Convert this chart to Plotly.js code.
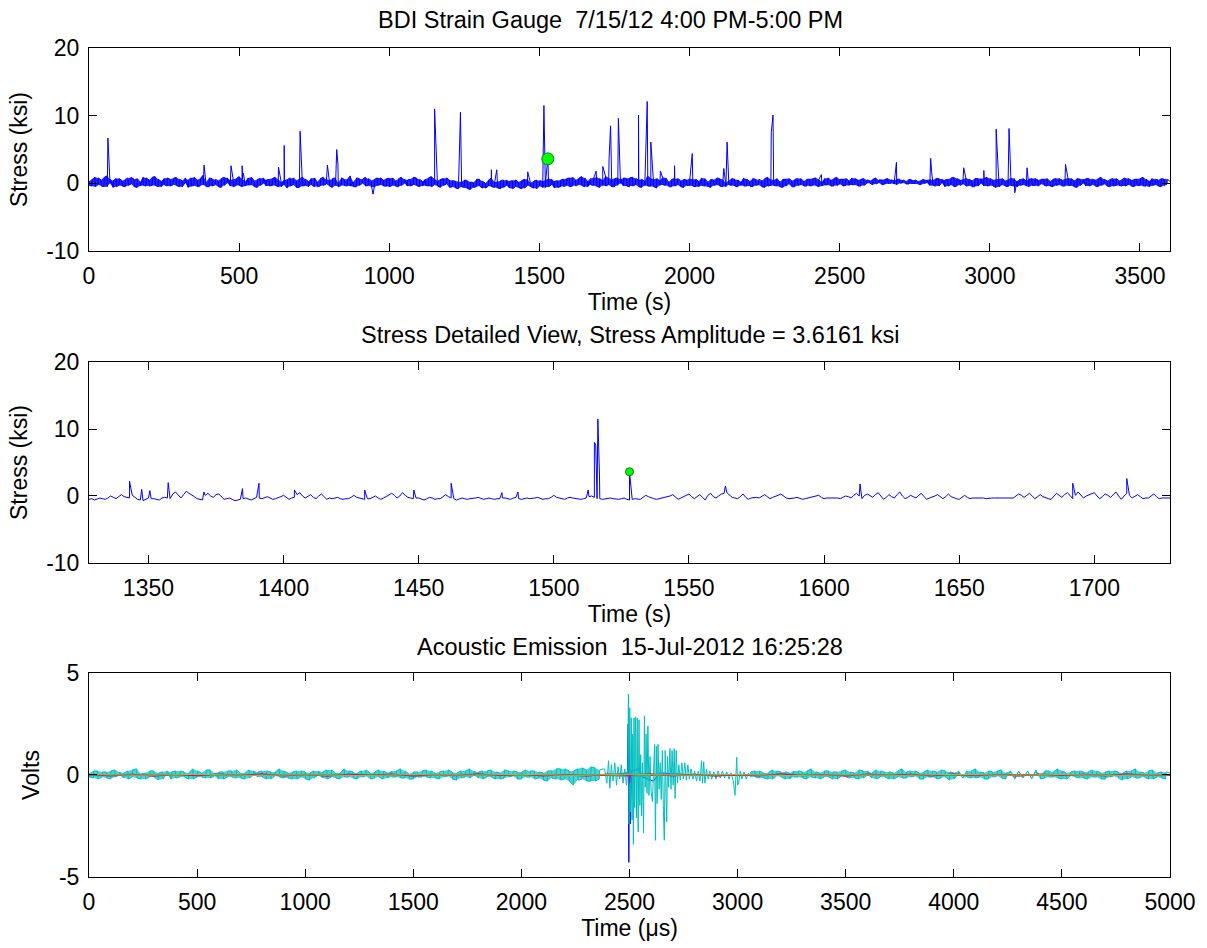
<!DOCTYPE html>
<html>
<head>
<meta charset="utf-8">
<script src="https://cdn.plot.ly/plotly-3.0.1.min.js"></script>
<style>html,body{margin:0;padding:0;background:#fff;}#chart{width:1207px;height:948px;}</style>
</head>
<body>
<div id="chart"></div>
<script>
// ---------- Panel 1: BDI strain gauge, one hour ----------
// paired readings every 10 s: first at t, second at t+1 s
const gaugeStart = 0;
const gaugeMidStart = 1;
const gaugeStep = 10;
const gaugeBase = [
0.3,-0.4,0.9,-0.2,0.5,-0.5,1.1,0.0,-0.6,0.7,-0.3,0.4,-0.5,0.8,-0.1,0.6,-0.6,0.2,0.9,-0.4,
0.5,-0.3,1.0,-0.5,0.3,0.7,-0.4,0.6,-0.2,0.9,-0.5,0.4,0.1,-0.6,0.8,-0.3,0.5,-0.4,1.2,0.2,
-0.5,0.7,-0.2,0.4,-0.6,0.9,0.1,-0.4,0.6,-0.3,1.0,-0.5,0.3,0.8,-0.2,0.4,-0.6,0.7,0.0,-0.4,
0.6,-0.3,0.9,-0.5,0.2,0.5,-0.7,0.8,-0.2,0.4,-0.6,1.0,-0.3,0.3,0.7,-0.5,0.2,-0.4,0.9,-0.1,
0.5,-0.6,0.8,0.1,-0.3,0.6,-0.4,1.1,0.2,-0.5,0.7,0.0,0.9,-0.3,0.4,-0.6,0.8,-0.2,0.5,-0.4,
0.7,-0.3,0.4,-0.5,0.9,0.0,-0.4,0.6,-0.2,0.8,-0.5,0.3,0.6,-0.4,1.0,-0.2,0.4,-0.6,0.7,-0.1,
0.5,-0.5,0.3,-0.8,0.2,-0.6,0.4,-0.9,0.1,-0.5,0.6,-0.7,0.0,-0.4,0.8,-0.6,0.3,-0.8,0.5,-0.3,
-0.7,0.4,-0.5,0.2,-0.8,0.6,-0.3,0.1,-0.7,0.5,-0.4,0.3,-0.6,0.7,-0.2,-0.7,0.4,-0.5,0.6,-0.3,
0.8,-0.4,0.5,-0.2,1.0,-0.5,0.3,0.7,-0.3,0.9,-0.6,0.4,1.1,-0.2,0.6,-0.5,0.8,0.0,-0.4,0.7,
-0.5,0.9,-0.2,0.5,-0.6,0.3,1.2,-0.4,0.6,-0.7,0.4,0.9,-0.3,0.2,-0.5,0.7,-0.2,0.4,-0.6,0.5,
-0.3,0.6,-0.5,0.3,0.8,-0.4,0.2,-0.6,0.5,-0.2,0.7,-0.5,0.1,0.4,-0.3,0.6,-0.5,0.2,0.8,-0.4,
0.3,-0.5,0.6,-0.2,0.4,-0.6,0.9,-0.3,0.5,-0.4,0.2,-0.6,0.6,-0.1,0.4,-0.5,0.7,-0.2,0.3,-0.4,
0.6,-0.3,0.8,-0.5,0.2,0.7,-0.2,0.5,-0.4,0.9,-0.1,0.6,-0.3,0.4,0.8,-0.2,0.5,-0.4,0.7,0.0,
0.4,-0.2,0.8,0.1,0.5,-0.1,0.7,0.0,0.4,-0.2,0.6,0.1,0.3,-0.1,0.5,0.0,0.3,-0.2,0.6,0.1,
-0.3,0.5,-0.4,0.7,0.1,-0.5,0.6,-0.2,0.9,-0.4,0.5,-0.1,0.8,-0.3,0.4,-0.5,0.7,0.0,-0.4,0.9,
-0.3,0.5,-0.6,0.7,-0.2,0.4,-0.5,0.8,-0.4,0.3,0.6,-0.2,0.4,-0.5,0.7,-0.3,0.5,-0.1,0.6,-0.4,
0.3,-0.5,0.7,-0.2,0.5,-0.4,0.8,-0.3,0.4,-0.6,0.6,0.0,-0.4,0.7,-0.2,0.5,-0.5,0.9,-0.1,0.4,
-0.5,0.7,-0.3,0.4,-0.4,0.8,-0.2,0.5,-0.5,0.6,-0.3,0.9,-0.4,0.3,0.7,-0.2,0.5,-0.5,0.6,-0.1,
0.3];
const gaugeBaseMid = [
-0.3,0.6,-0.5,0.8,-0.4,0.9,-0.5,0.6,0.4,-0.5,0.7,-0.4,0.6,-0.3,0.9,-0.5,0.7,-0.4,-0.3,0.8,
-0.4,0.9,-0.3,0.6,-0.5,-0.2,0.8,-0.4,0.7,-0.3,0.6,-0.5,0.8,0.5,-0.4,0.9,-0.5,0.7,-0.2,-0.5,
0.8,-0.4,0.6,-0.5,0.7,-0.3,0.8,0.5,-0.5,0.7,-0.3,0.6,-0.4,-0.2,0.9,-0.5,0.6,-0.3,0.8,0.5,
-0.4,0.7,-0.3,0.6,-0.5,-0.2,0.6,-0.4,0.8,-0.6,0.7,-0.4,0.6,-0.5,-0.2,0.8,-0.5,0.7,-0.3,0.6,
-0.4,0.7,-0.3,-0.5,0.8,-0.3,0.6,-0.4,-0.5,0.8,-0.3,0.6,-0.4,0.7,-0.5,0.6,-0.3,0.8,-0.4,0.7,
-0.5,0.8,-0.4,0.7,-0.3,0.6,0.5,-0.4,0.9,-0.3,0.6,-0.4,-0.3,0.8,-0.5,0.7,-0.4,0.6,-0.3,0.8,
-0.6,0.4,-0.7,0.3,-0.5,0.5,-0.8,0.2,-0.6,0.6,-0.4,0.3,-0.7,0.5,-0.5,0.2,-0.7,0.4,-0.6,0.5,
0.3,-0.8,0.5,-0.6,0.4,-0.7,0.6,-0.5,0.3,-0.8,0.4,-0.6,0.5,-0.5,0.6,0.3,-0.6,0.5,-0.5,0.7,
-0.5,0.9,-0.4,0.7,-0.3,0.8,-0.5,-0.2,0.8,-0.4,0.7,-0.3,-0.4,0.9,-0.5,0.7,-0.3,0.6,0.8,-0.4,
0.8,-0.4,0.7,-0.5,0.6,-0.3,-0.4,0.8,-0.5,0.7,-0.3,-0.2,0.8,-0.5,0.6,-0.4,0.7,-0.5,0.6,-0.3,
0.7,-0.4,0.6,-0.5,-0.3,0.7,-0.4,0.6,-0.3,0.8,-0.4,0.6,-0.5,-0.2,0.7,-0.4,0.5,-0.3,-0.4,0.6,
-0.4,0.7,-0.3,0.6,-0.5,0.7,-0.4,0.6,-0.3,0.7,-0.5,0.6,-0.4,0.7,-0.5,0.6,-0.3,0.7,-0.4,0.6,
-0.4,0.7,-0.3,0.6,-0.4,-0.2,0.8,-0.4,0.7,-0.3,0.6,-0.4,0.7,-0.3,-0.2,0.7,-0.4,0.6,-0.3,0.5,
0.0,0.6,-0.1,0.5,-0.2,0.6,0.0,0.5,-0.1,0.6,0.0,0.5,-0.1,0.6,0.0,0.5,-0.1,0.4,0.0,0.5,
0.6,-0.3,0.7,-0.4,0.6,0.5,-0.4,0.8,-0.5,0.7,-0.3,0.6,-0.4,0.6,-0.5,0.7,-0.4,0.6,0.7,-0.4,
0.7,-0.4,0.6,-0.5,0.7,-0.4,0.6,-0.3,0.7,-0.5,-0.3,0.7,-0.4,0.6,-0.3,0.7,-0.4,0.6,-0.3,0.7,
-0.4,0.6,-0.3,0.7,-0.4,0.6,-0.3,0.7,-0.5,0.7,-0.3,0.6,0.7,-0.4,0.6,-0.4,0.7,-0.3,0.6,-0.4,
0.6,-0.4,0.7,-0.3,0.6,-0.4,0.7,-0.4,0.6,-0.3,0.7,-0.4,0.6,-0.5,-0.3,0.6,-0.4,0.7,-0.3,0.6];
const gaugeSpikeTime = [63,383,473,510,514,631,650,703,794,825,829,946,1151,1237,1340,1358,1461,1515,1528,1689,1711,1732,1737,1763,1830,1859,1871,1903,1950,2009,2114,2125,2272,2278,2439,2689,2803,2806,2913,2980,3021,3064,3083,3124,3252];
const gaugeSpikeStress = [6.7,2.7,2.6,2.6,1.5,2.4,5.6,7.7,2.7,5.0,2.8,-1.6,11.0,10.5,2.0,2.0,1.7,11.5,3.6,1.8,2.5,3.7,8.5,9.6,10.1,12.1,6.1,1.8,2.6,4.4,2.2,6.1,7.5,10.1,1.3,3.1,3.7,1.8,2.3,1.9,8.0,8.1,-1.4,2.3,2.8];

// selected event
const eventTime = [1528];
const eventStress = [3.6161];

// ---------- Panel 2: detailed view ----------
const detailStart = 1328;     // even seconds
const detailMidStart = 1329;  // odd seconds
const detailStep = 2;
const detailBase = [
-0.5,-0.6,-0.3,-0.5,0.0,-0.4,0.2,-0.2,0.1,-0.5,-0.7,-0.3,-0.4,-0.6,-0.2,-0.4,0.6,-0.3,0.7,0.2,
-0.4,-0.6,0.4,-0.2,0.3,-0.5,-0.3,-0.7,-0.5,-0.3,-0.6,-0.2,-0.4,-0.1,-0.5,-0.3,0.1,-0.5,-0.2,0.5,
-0.3,0.2,-0.4,0.3,-0.5,-0.4,-0.2,-0.5,-0.4,0.1,-0.3,-0.5,-0.4,0.0,-0.5,-0.1,0.4,-0.3,0.5,-0.2,
-0.4,-0.3,-0.6,-0.2,-0.5,-0.4,0.2,-0.3,-0.6,-0.3,-0.5,-0.4,-0.2,-0.5,-0.3,-0.5,-0.4,-0.3,-0.5,-0.2,
-0.5,-0.3,-0.4,-0.2,-0.5,-0.4,0.1,-0.3,-0.5,-0.2,-0.4,-0.5,-0.3,0.0,-0.4,-0.5,-0.3,-0.4,-0.5,-0.3,
-0.6,-0.4,-0.5,0.1,-0.3,-0.5,-0.4,-0.2,0.2,-0.5,-0.1,0.3,-0.4,0.2,-0.6,0.4,-0.3,0.3,0.5,-0.2,
-0.4,0.3,-0.5,-0.2,-0.3,0.2,-0.4,-0.1,0.3,-0.3,-0.4,-0.2,-0.5,-0.3,-0.2,0.1,-0.4,-0.3,-0.2,-0.4,
0.0,-0.3,0.4,-0.4,0.3,-0.2,0.5,-0.5,0.2,-0.3,0.6,-0.4,0.1,-0.3,0.4,-0.5,-0.2,0.2,-0.4,0.3,
-0.3,-0.5,0.1,-0.4,-0.3,-0.2,-0.4,-0.3,-0.3,-0.3,-0.3,-0.3,0.3,-0.2,0.4,-0.4,0.2,-0.3,-0.5,0.4,
-0.2,0.5,-0.4,0.6,-0.3,0.2,0.5,-0.4,0.3,-0.2,0.6,-0.5,0.4,-0.3,0.2,-0.4,-0.3,0.3,-0.4,-0.3,
-0.3];
const detailBaseMid = [
-0.4,-0.5,-0.4,-0.3,-0.2,-0.1,-0.1,-0.3,-0.2,-0.6,-0.5,-0.4,-0.5,-0.3,-0.3,0.3,0.1,0.2,0.4,-0.1,
-0.5,0.1,0.0,0.2,-0.1,-0.4,-0.5,-0.6,-0.4,-0.5,-0.4,-0.3,-0.2,-0.3,-0.4,-0.1,-0.2,-0.3,0.2,0.0,
0.0,-0.2,0.0,-0.1,-0.3,-0.3,-0.4,-0.4,-0.2,-0.2,-0.4,-0.4,-0.2,-0.3,-0.3,0.2,0.1,0.0,0.1,-0.3,
-0.3,-0.5,-0.4,-0.3,-0.4,-0.1,-0.1,-0.4,-0.5,-0.4,-0.4,-0.3,-0.3,-0.4,-0.4,-0.4,-0.3,-0.4,-0.3,-0.4,
-0.4,-0.4,-0.3,-0.3,-0.4,-0.2,-0.2,-0.4,-0.3,-0.3,-0.5,-0.4,-0.1,-0.2,-0.4,-0.4,-0.3,-0.5,-0.4,-0.5,
-0.5,-0.4,-0.2,-0.1,-0.4,-0.4,-0.3,0.0,-0.1,-0.3,0.1,-0.1,-0.1,-0.2,0.1,-0.1,0.0,0.4,0.1,-0.3,
-0.1,-0.2,-0.3,-0.2,0.0,-0.1,-0.2,0.1,0.0,-0.4,-0.3,-0.3,-0.4,-0.2,-0.1,-0.2,-0.3,-0.2,-0.3,-0.2,
-0.1,0.1,0.0,0.1,0.0,0.2,0.0,-0.2,-0.1,0.2,0.0,-0.2,-0.1,0.1,-0.1,-0.3,0.0,-0.1,-0.1,-0.1,
-0.4,-0.2,-0.2,-0.3,-0.2,-0.3,-0.3,-0.3,-0.3,-0.3,-0.3,0.0,0.1,0.1,0.0,-0.1,-0.1,-0.4,0.0,0.1,
0.2,0.1,0.1,0.2,0.0,0.4,0.0,-0.1,0.1,0.2,0.0,0.0,0.1,0.0,-0.1,-0.3,0.0,-0.1,-0.3,-0.3];
const detailEventTime = [1343,1347.5,1350.5,1357.3,1370.5,1384.8,1390.9,1404,1430,1448.2,1462,1480.8,1486.7,1512.7,1515.0,1515.5,1516.3,1516.9,1528,1563.5,1613.3,1692,1712];
const detailEventStress = [2.2,1.0,0.8,2.0,0.6,1.1,1.9,0.9,0.9,0.9,1.9,0.5,0.6,0.9,8.0,7.6,11.5,3.0,3.6161,1.5,1.8,1.9,2.6];

// ---------- Panel 3: acoustic emission channels (Volts vs microseconds) ----------
// paired readings every 20 us: first at t, second at t+2 us
const aeStep = 20;
const aeCyanPreStart = 0;
const aeCyanPreMidStart = 2;
const aeCyanPre = [
0.1,-0.15,0.2,-0.1,0.15,-0.2,0.25,0.0,-0.15,0.2,
-0.1,0.3,-0.2,0.1,-0.1,0.2,-0.25,0.15,0.05,-0.2,
0.2,-0.1,0.15,-0.2,0.3,-0.1,0.1,-0.15,0.25,-0.05,
-0.2,0.15,-0.1,0.2,-0.15,0.1,-0.2,0.25,0.0,-0.1,
0.2,-0.2,0.15,-0.05,0.3,-0.15,0.1,-0.2,0.2,-0.1,
0.15,-0.25,0.2,0.0,-0.15,0.25,-0.1,0.1,-0.2,0.3,
-0.1,0.15,-0.2,0.2,-0.05,0.1,-0.15,0.25,-0.2,0.1,
0.2,-0.1,0.3,-0.15,0.05,-0.2,0.15,-0.1,0.25,-0.15,
0.1,-0.2,0.2,-0.05,0.15,-0.25,0.2,-0.1,0.3,0.0,
-0.15,0.2,-0.1,0.25,-0.2,0.1,-0.15,0.2,-0.05,0.15,
-0.2,0.25,-0.1,0.2,-0.15,0.1,-0.3,0.2,-0.2,0.3,
-0.2,0.2,-0.5,0.3,-0.2,0.25,-0.3,0.35,-0.2,0.3];
const aeCyanPreMid = [
-0.1,0.2,-0.2,0.15,-0.15,0.2,-0.1,0.15,0.1,-0.2,
0.25,-0.15,0.05,-0.2,0.2,-0.1,0.1,-0.2,0.2,0.15,
-0.15,0.2,-0.1,0.1,-0.2,0.2,-0.1,0.25,-0.15,0.1,
0.15,-0.2,0.2,-0.1,0.25,-0.15,0.1,-0.15,0.2,0.15,
-0.1,0.2,-0.2,0.15,-0.1,0.2,-0.15,0.15,-0.2,0.2,
-0.2,0.1,-0.15,0.2,0.15,-0.2,0.25,-0.15,0.1,-0.1,
0.2,-0.15,0.1,-0.1,0.25,-0.2,0.15,-0.1,0.2,-0.15,
-0.1,0.2,-0.15,0.2,-0.2,0.15,-0.1,0.2,-0.1,0.2,
-0.15,0.15,-0.1,0.25,-0.2,0.1,-0.15,0.2,-0.15,0.2,
0.15,-0.2,0.2,-0.1,0.15,-0.2,0.25,-0.1,0.2,-0.2,
0.15,-0.1,0.2,-0.2,0.15,-0.25,0.2,-0.15,0.3,-0.25,
0.3,-0.3,0.2,-0.25,0.35,-0.3,0.4,-0.3,0.25];
const aeCyanBurstTime = [2385,2395,2403,2409,2416,2424,2432,2440,2447,2455,2462,2470,2478,2486,2492,2495,2498,2501,2504,2508,2512,2515,2518,2521,2524,2528,2532,2536,2540,2544,2548,2552,2556,2560,2565,2569,2573,2577,2581,2585,2590,2595,2600,2606,2611,2616,2620,2624,2628,2632,2637,2642,2647,2652,2657,2661,2665,2669,2672,2676,2681,2687,2692,2697,2702,2707,2711,2716,2722,2728,2735,2742,2749,2756,2763,2770,2777,2785,2793,2801,2810,2818,2826,2833,2838,2843,2849,2856,2864,2872,2880,2890,2900,2910,2920,2930,2940,2950,2960,2970,2980,2988,2992,2996,3000,3005,3012,3020,3030,3040,3050];
const aeCyanBurstVolts = [0.3,-0.4,0.7,-0.65,0.5,-0.3,0.6,-0.5,0.4,-0.2,0.5,-0.4,0.3,-0.5,0.3,3.97,-2.4,3.3,-1.8,2.8,-2.2,2.0,-3.4,2.8,-1.6,2.85,-2.1,2.8,-2.8,2.7,-1.5,1.0,-2.0,0.6,-2.85,2.9,-0.6,2.0,-0.9,2.4,-1.0,0.9,-0.8,-1.3,0.8,1.5,-3.2,1.4,-1.4,1.5,-0.7,0.6,-1.2,1.2,-1.8,-3.2,1.2,-0.5,-2.3,0.9,-0.6,1.3,-0.7,1.2,-0.5,1.3,-1.15,1.2,-0.4,0.5,-0.25,0.6,-0.2,0.6,-0.25,0.5,-0.2,0.3,-0.2,0.2,-0.3,0.2,-0.3,0.7,-0.4,0.65,-0.4,0.3,-0.2,0.2,-0.2,0.15,-0.2,0.2,-0.15,0.2,-0.15,0.15,-0.2,0.1,-0.3,-1.0,0.3,0.87,-0.5,-0.4,0.2,-0.2,0.15,-0.2,0.1];
const aeCyanPostStart = 3060;
const aeCyanPostMidStart = 3062;
const aeCyanPost = [
-0.1,0.2,-0.15,0.1,-0.2,0.25,-0.05,0.15,-0.2,0.1,
0.2,-0.1,0.15,-0.2,0.3,-0.15,0.1,-0.1,0.2,-0.2,
0.15,-0.05,0.25,-0.15,0.1,-0.2,0.2,0.0,-0.15,0.25,
-0.1,0.15,-0.2,0.1,-0.1,0.3,-0.15,0.2,-0.05,0.1,
-0.2,0.25,-0.1,0.15,-0.15,0.2,-0.25,0.1,0.05,-0.1,
0.2,-0.15,0.3,-0.1,0.1,-0.2,0.15,-0.05,0.25,-0.2,
0.1,-0.1,0.2,-0.15,0.15,-0.2,0.25,0.0,-0.15,0.2,
-0.1,0.3,-0.2,0.1,-0.05,0.2,-0.15,0.15,-0.2,0.25,
-0.1,0.1,-0.2,0.2,-0.05,0.15,-0.25,0.2,-0.1,0.3,
-0.15,0.1,-0.2,0.25,-0.1,0.15,-0.2,0.1];
const aeCyanPostMid = [
0.15,-0.1,0.2,-0.15,0.1,-0.2,0.2,-0.1,0.15,-0.2,
-0.1,0.2,-0.15,0.2,-0.1,0.15,-0.2,0.2,-0.1,0.15,
-0.2,0.2,-0.1,0.15,-0.15,0.25,-0.15,0.2,0.1,-0.2,
0.2,-0.1,0.15,-0.2,0.2,-0.15,0.15,-0.1,0.2,-0.2,
0.15,-0.1,0.2,-0.2,0.25,-0.1,0.15,-0.2,0.2,-0.15,
-0.1,0.2,-0.15,0.15,-0.2,0.2,-0.1,0.2,-0.15,0.1,
0.2,-0.2,0.15,-0.1,0.2,-0.15,0.1,-0.2,0.2,-0.1,
0.15,-0.15,0.2,-0.2,0.15,-0.1,0.2,-0.15,0.15,-0.1,
0.2,-0.2,0.15,-0.1,0.2,-0.15,0.1,-0.2,0.2,-0.15,
0.15,-0.1,0.2,-0.2,0.1,-0.15,0.15];

const aeBlueTime = [0,400,800,1200,1600,2000,2400,2490,2494,2497,2500,2503,2510,2545,2560,2610,2640,2800,3200,3600,4000,4400,4800,5000];
const aeBlueVolts = [0,0.02,-0.02,0.01,-0.01,0.02,0.0,0.1,2.5,-4.28,1.5,-2.4,0.2,0.3,-0.1,-0.3,0.1,0.0,0.01,-0.01,0.0,0.02,-0.01,0];

const aeSmallStep = 100;
const aeMagenta = [
0.02,-0.05,0.04,-0.06,0.03,-0.04,0.05,-0.03,0.06,-0.05,
0.03,-0.06,0.04,-0.02,0.05,-0.06,0.03,-0.04,0.06,-0.03,
0.04,-0.05,0.02,-0.06,0.05,-0.02,0.06,-0.05,0.04,-0.06,
0.03,-0.05,0.06,-0.04,0.02,-0.06,0.05,-0.03,0.04,-0.05,
0.06,-0.04,0.03,-0.06,0.05,-0.02,0.04,-0.05,0.06,-0.03,0.02];
const aeMagentaDipTime = [2496,2500,2504];
const aeMagentaDipVolts = [0.0,-0.4,0.0];

const aeTinyStep = 250;
const aeGreen = [0.01,-0.02,0.02,-0.01,0.03,-0.02,0.01,-0.03,0.02,-0.01,0.05,-0.03,0.02,-0.02,0.01,-0.02,0.03,-0.01,0.02,-0.02,0.01];
const aeRed   = [-0.02,0.03,-0.01,0.02,-0.03,0.01,-0.02,0.03,-0.01,0.02,-0.06,0.02,-0.03,0.01,-0.02,0.03,-0.01,0.02,-0.03,0.01,-0.02];
const aeOlive = [0.02,-0.01,0.03,-0.02,0.01,-0.03,0.02,-0.01,0.03,-0.02,0.04,-0.01,0.02,-0.03,0.01,-0.02,0.03,-0.01,0.02,-0.02,0.01];

// ---------- Titles & ticks ----------
const titleGauge = 'BDI Strain Gauge  7/15/12 4:00 PM-5:00 PM';
const titleDetail = 'Stress Detailed View, Stress Amplitude = 3.6161 ksi';
const titleAE = 'Acoustic Emission  15-Jul-2012 16:25:28';
const stressTickVals = [-10,0,10,20];
const stressTickText = ['-10','0','10','20'];
const voltTickVals = [-5,0,5];
const voltTickText = ['-5','0','5'];
const gaugeXTicks = [0,500,1000,1500,2000,2500,3000,3500];
const detailXTicks = [1350,1400,1450,1500,1550,1600,1650,1700];
const aeXTicks = [0,500,1000,1500,2000,2500,3000,3500,4000,4500,5000];

// ---------- helpers ----------
function sampled(start, step, vals){ return vals.map((v,i)=>[start+i*step, v]); }
function pairs(ts, vs){ return ts.map((t,i)=>[t, vs[i]]); }
function series(list){ list.sort((a,b)=>a[0]-b[0]); return {x:list.map(p=>p[0]), y:list.map(p=>p[1])}; }
// per-interval min/max band of the paired readings (how a dense record looks when drawn)
function band(start, step, a, b){
  const n = Math.min(a.length, b.length);
  const x = [], lo = [], hi = [];
  for (let i = 0; i < n; i++){ x.push(start + i*step); lo.push(Math.min(a[i], b[i])); hi.push(Math.max(a[i], b[i])); }
  return {x, lo, hi};
}

const g = series(sampled(gaugeStart, gaugeStep, gaugeBase).concat(sampled(gaugeMidStart, gaugeStep, gaugeBaseMid), pairs(gaugeSpikeTime, gaugeSpikeStress)));
const gBand = band(gaugeStart, gaugeStep, gaugeBase, gaugeBaseMid);
const d = series(sampled(detailStart, detailStep, detailBase).concat(sampled(detailMidStart, detailStep, detailBaseMid), pairs(detailEventTime, detailEventStress)));
const cy = series(sampled(aeCyanPreStart, aeStep, aeCyanPre).concat(
  sampled(aeCyanPreMidStart, aeStep, aeCyanPreMid),
  pairs(aeCyanBurstTime, aeCyanBurstVolts),
  sampled(aeCyanPostStart, aeStep, aeCyanPost),
  sampled(aeCyanPostMidStart, aeStep, aeCyanPostMid)));
const cyPreBand = band(aeCyanPreStart, aeStep, aeCyanPre, aeCyanPreMid);
const cyPostBand = band(aeCyanPostStart, aeStep, aeCyanPost, aeCyanPostMid);
const mg = series(sampled(0, aeSmallStep, aeMagenta).concat(pairs(aeMagentaDipTime, aeMagentaDipVolts)));
const gr = series(sampled(0, aeTinyStep, aeGreen));
const rd = series(sampled(0, aeTinyStep, aeRed));
const ol = series(sampled(0, aeTinyStep, aeOlive));

const FONT = '"Liberation Sans", Arial, Helvetica, sans-serif';
const TICKSIZE = 23;

function line(o, xa, ya, color){ return {type:'scatter', mode:'lines', x:o.x, y:o.y, xaxis:xa, yaxis:ya, line:{color:color, width:1}, hoverinfo:'skip', showlegend:false}; }
function bandTraces(b, xa, ya, fillcolor){
  return [
    {type:'scatter', mode:'lines', x:b.x, y:b.lo, xaxis:xa, yaxis:ya, line:{width:0, color:fillcolor}, hoverinfo:'skip', showlegend:false},
    {type:'scatter', mode:'lines', x:b.x, y:b.hi, xaxis:xa, yaxis:ya, line:{width:0, color:fillcolor}, fill:'tonexty', fillcolor:fillcolor, hoverinfo:'skip', showlegend:false}
  ];
}

const traces = [].concat(
  bandTraces(gBand, 'x', 'y', 'rgba(0,0,255,0.85)'),
  [line(g,'x','y','#0000FF'),
   {type:'scatter', mode:'markers', x:eventTime, y:eventStress, xaxis:'x', yaxis:'y', marker:{size:12, color:'#00FF00', line:{color:'#008000', width:1}}, hoverinfo:'skip', showlegend:false},
   line(d,'x2','y2','#0000FF'),
   {type:'scatter', mode:'markers', x:eventTime, y:eventStress, xaxis:'x2', yaxis:'y2', marker:{size:8, color:'#00FF00', line:{color:'#008000', width:1}}, hoverinfo:'skip', showlegend:false},
   line({x:aeBlueTime, y:aeBlueVolts},'x3','y3','#0000FF'),
   line(gr,'x3','y3','#008000'),
   line(rd,'x3','y3','#FF0000')],
  bandTraces(cyPreBand, 'x3', 'y3', 'rgba(0,191,191,0.7)'),
  bandTraces(cyPostBand, 'x3', 'y3', 'rgba(0,191,191,0.7)'),
  [line(cy,'x3','y3','#00BFBF'),
   line(mg,'x3','y3','#BF00BF'),
   line(ol,'x3','y3','#BFBF00')]
);

function xax(range, ticks, titleText, anchor){
  return {range:range, tickvals:ticks, ticktext:ticks.map(String), ticks:'inside', ticklen:8, tickwidth:1, tickcolor:'#000',
    showline:true, linecolor:'#000', linewidth:1, mirror:'ticks', showgrid:false, zeroline:false, anchor:anchor,
    tickfont:{family:FONT, size:TICKSIZE, color:'#000'}, ticklabelstandoff:4,
    title:{text:titleText, font:{family:FONT, size:TICKSIZE, color:'#000'}, standoff:2}};
}
function yax(range, vals, text, domain, titleText, anchor){
  return {range:range, domain:domain, tickvals:vals, ticktext:text, ticks:'inside', ticklen:8, tickwidth:1, tickcolor:'#000',
    showline:true, linecolor:'#000', linewidth:1, mirror:'ticks', showgrid:false, zeroline:false, anchor:anchor,
    tickfont:{family:FONT, size:TICKSIZE, color:'#000'}, ticklabelstandoff:4,
    title:{text:titleText, font:{family:FONT, size:TICKSIZE, color:'#000'}, standoff:12}};
}

const layout = {
  width:1207, height:948, paper_bgcolor:'#fff', plot_bgcolor:'#fff',
  margin:{l:89, r:37, t:48, b:71},
  font:{family:FONT, color:'#000'},
  xaxis: xax([0,3600], gaugeXTicks, 'Time (s)', 'y'),
  yaxis: yax([-10,20], stressTickVals, stressTickText, [0.7551,1], 'Stress (ksi)', 'x'),
  xaxis2: xax([1328,1728], detailXTicks, 'Time (s)', 'y2'),
  yaxis2: yax([-10,20], stressTickVals, stressTickText, [0.3788,0.6212], 'Stress (ksi)', 'x2'),
  xaxis3: xax([0,5000], aeXTicks, 'Time (μs)', 'y3'),
  yaxis3: yax([-5,5], voltTickVals, voltTickText, [0,0.2461], 'Volts', 'x3'),
  annotations:[
    {text:titleGauge, xref:'paper', yref:'paper', x:0.482, y:1.0338, xanchor:'center', yanchor:'middle', showarrow:false, font:{family:FONT, size:23.5, color:'#000'}},
    {text:titleDetail, xref:'paper', yref:'paper', x:0.5, y:0.6538, xanchor:'center', yanchor:'middle', showarrow:false, font:{family:FONT, size:23.5, color:'#000'}},
    {text:titleAE, xref:'paper', yref:'paper', x:0.5, y:0.2774, xanchor:'center', yanchor:'middle', showarrow:false, font:{family:FONT, size:23.5, color:'#000'}}
  ]
};

Plotly.newPlot('chart', traces, layout, {staticPlot:true, displayModeBar:false});
</script>
</body>
</html>
